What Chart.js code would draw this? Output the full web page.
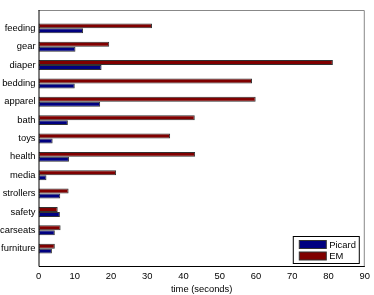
<!DOCTYPE html>
<html>
<head>
<meta charset="utf-8">
<script src="https://cdn.jsdelivr.net/npm/chart.js@4"></script>
<style>
  html, body { margin: 0; padding: 0; background: #fff; }
  #wrap { width: 374px; height: 295px; }
</style>
</head>
<body>
<div id="wrap"><canvas id="chart"></canvas></div>
<script>
// categories, top to bottom
var categories = ["feeding", "gear", "diaper", "bedding", "apparel", "bath", "toys",
                  "health", "media", "strollers", "safety", "carseats", "furniture"];
// time in seconds
var picard = [12.3, 10.2, 17.4, 10.0, 17.0, 8.1, 3.9, 8.4, 2.2, 6.0, 5.9, 4.5, 3.7];
var em     = [31.3, 19.5, 81.2, 58.9, 59.9, 43.1, 36.3, 43.2, 21.4, 8.3, 5.3, 6.1, 4.5];
var xTicks = [0, 10, 20, 30, 40, 50, 60, 70, 80, 90];

// pad with an empty slot above and below, like the original axis limits
function pad(arr, v) { return [v].concat(arr, [v]); }

var font = { family: "'Liberation Sans', Arial, sans-serif", size: 9.4 };

// box around plot + legend in lower right
var boxPlugin = {
  id: "box",
  afterDraw: function(chart) {
    var ctx = chart.ctx, a = chart.chartArea;
    ctx.save();
    ctx.lineWidth = 1;
    ctx.strokeStyle = "#888";
    ctx.beginPath();
    ctx.moveTo(a.left, a.top + 0.5);
    ctx.lineTo(a.right - 0.5, a.top + 0.5);
    ctx.lineTo(a.right - 0.5, a.bottom);
    ctx.stroke();
    ctx.strokeStyle = "#000";
    ctx.beginPath();
    ctx.moveTo(a.left + 0.5, a.top);
    ctx.lineTo(a.left + 0.5, a.bottom - 0.5);
    ctx.lineTo(a.right, a.bottom - 0.5);
    ctx.stroke();

    // legend
    var lx = a.right - 71.5, ly = a.bottom - 30.5, lw = 66, lh = 27;
    ctx.fillStyle = "#fff";
    ctx.fillRect(lx, ly, lw, lh);
    ctx.strokeStyle = "#000";
    ctx.strokeRect(lx, ly, lw, lh);
    var items = [["Picard", "#000080"], ["EM", "#800000"]];
    ctx.font = font.size + "px " + font.family;
    ctx.textBaseline = "middle";
    items.forEach(function(it, i) {
      var y = ly + 4 + i * 11.5;
      ctx.fillStyle = it[1];
      ctx.fillRect(lx + 6, y, 27, 8);
      ctx.strokeStyle = "#333";
      ctx.strokeRect(lx + 6, y, 27, 8);
      ctx.fillStyle = "#000";
      ctx.fillText(it[0], lx + 36, y + 4.5);
    });
    ctx.restore();
  }
};

new Chart(document.getElementById("chart"), {
  type: "bar",
  data: {
    labels: pad(categories, ""),
    datasets: [
      { label: "EM", data: pad(em, null), backgroundColor: "#800000",
        borderColor: "#333", borderWidth: 1, borderSkipped: false },
      { label: "Picard", data: pad(picard, null), backgroundColor: "#000080",
        borderColor: "#333", borderWidth: 1, borderSkipped: false }
    ]
  },
  options: {
    indexAxis: "y",
    responsive: true,
    maintainAspectRatio: false,
    animation: false,
    categoryPercentage: 0.54,
    barPercentage: 1.0,
    layout: { padding: { top: 10, right: 9, left: 0, bottom: 0 } },
    plugins: {
      legend: { display: false },
      tooltip: { enabled: false }
    },
    scales: {
      x: {
        min: 0, max: 90,
        afterBuildTicks: function(s) { s.ticks = xTicks.map(function(v) { return { value: v }; }); },
        afterFit: function(s) { s.height = 28; },
        grid: { display: false, drawTicks: false, tickLength: 0 },
        border: { display: false },
        ticks: { color: "#000", font: font, padding: 4, maxRotation: 0 },
        title: { display: true, text: "time (seconds)", color: "#000", font: font, padding: { top: 0, bottom: 0 } }
      },
      y: {
        offset: false,
        afterFit: function(s) { s.width = 38.5; },
        grid: { display: false, drawTicks: false, tickLength: 0 },
        border: { display: false },
        ticks: { color: "#000", font: font, padding: 3, autoSkip: false }
      }
    }
  },
  plugins: [boxPlugin]
});
</script>
</body>
</html>
